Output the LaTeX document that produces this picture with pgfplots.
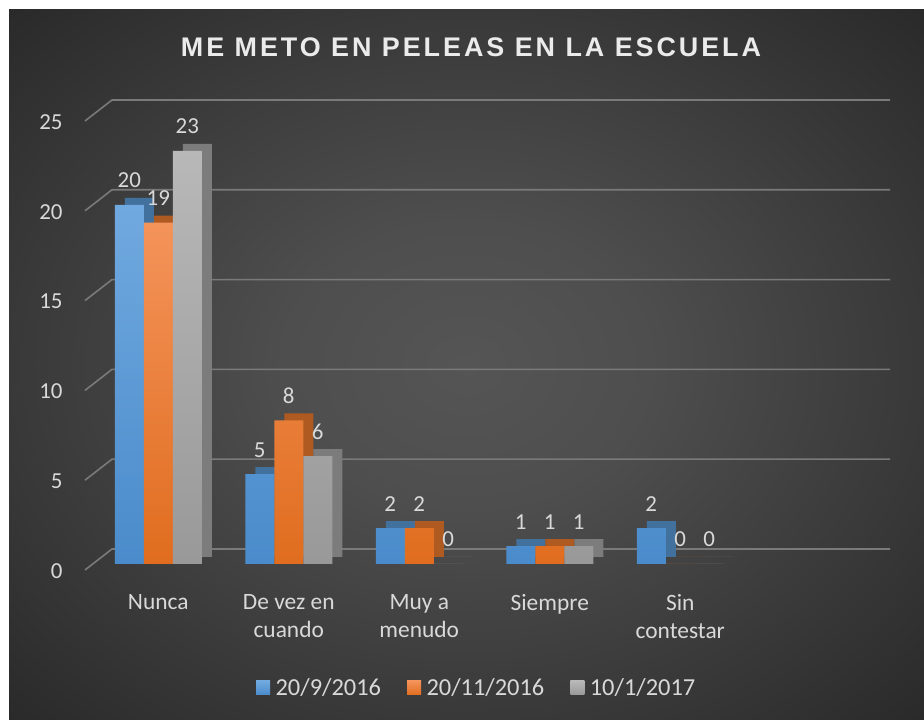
\documentclass[border=0pt]{standalone}
\usepackage{pgfplots}
\pgfplotsset{compat=1.18}
\usepackage{fontspec}
\setmainfont{Carlito}
\newfontfamily\titlefont[LetterSpace=11]{Liberation Sans}
\definecolor{txt}{HTML}{D9D9D9}
\definecolor{gridc}{HTML}{7A7A7A}
\definecolor{bgin}{HTML}{555555}
\definecolor{bgout}{HTML}{262626}
\definecolor{bT}{HTML}{70A9DF}
\definecolor{bB}{HTML}{4A8BCB}
\definecolor{bD}{HTML}{41719C}
\definecolor{oT}{HTML}{F4935A}
\definecolor{oB}{HTML}{E06D1F}
\definecolor{oD}{HTML}{AE5A21}
\definecolor{gT}{HTML}{B8B8B8}
\definecolor{gB}{HTML}{999999}
\definecolor{gD}{HTML}{7C7C7C}
\pgfdeclareradialshading{bgshade}{\pgfpoint{0bp}{0bp}}{color(0bp)=(bgin); color(10bp)=(bgin!85!bgout); color(38bp)=(bgout); color(60bp)=(bgout)}
\begin{document}
\begin{tikzpicture}[x=1bp,y=1bp]
\fill[white] (0,0) rectangle (924,720);
\shade[shading=bgshade] (9,0) rectangle (924,710);
\begin{axis}[
  at={(93bp,156bp)}, anchor=south west,
  scale only axis, width=783bp, height=449bp,
  xmin=-0.5, xmax=5.5, ymin=0, ymax=25,
  clip=false,
  axis line style={draw=none},
  tick style={draw=none},
  major tick length=0pt,
  ybar=0pt, bar width=29bp,
  xtick={0,1,2,3,4},
  xticklabels={Nunca,{De vez en\\cuando},{Muy a\\menudo},Siempre,{Sin\\contestar}},
  xticklabel style={font=\fontsize{23.5}{28}\selectfont, text=txt, align=center, yshift=-27bp},
  ytick={0,5,10,15,20,25},
  /pgf/number format/assume math mode=true,
  yticklabel style={font=\fontsize{23}{26}\selectfont, text=txt, xshift=-27bp, yshift=-7bp},
  nodes near coords,
  every node near coord/.append style={font=\fontsize{23}{26}\selectfont, text=txt, anchor=south, yshift=13.5bp},
  legend style={at={(0.49,-0.276)}, anchor=center, draw=none, fill=none, text=txt,
    font=\fontsize{24.5}{27}\selectfont, legend columns=3,
    /tikz/every odd column/.append style={column sep=3.5bp},
    /tikz/every even column/.append style={column sep=24bp}},
  legend image code/.code={\fill[#1] (0bp,-7bp) rectangle (14bp,7bp);},
]
\pgfplotsinvokeforeach{0,5,10,15,20,25}{
  \draw[gridc, line width=1.6bp] ([xshift=-8bp,yshift=-6bp]axis cs:-0.5,#1) -- ([xshift=19bp,yshift=15bp]axis cs:-0.5,#1) -- ([xshift=14bp,yshift=15bp]axis cs:5.5,#1);
}
% series 1
\addplot[forget plot, fill=bD, draw=none, bar shift=-19bp, yshift=7bp, nodes near coords={}] coordinates {(0,20) (1,5) (2,2) (3,1) (4,2)};
\addplot[top color=bT, bottom color=bB, draw=none, bar shift=-29bp] coordinates {(0,20) (1,5) (2,2) (3,1) (4,2)};
\addlegendentry{20/9/2016}
% series 2
\addplot[forget plot, fill=oD, draw=none, bar shift=10bp, yshift=7bp, nodes near coords={}] coordinates {(0,19) (1,8) (2,2) (3,1) (4,0)};
\addplot[top color=oT, bottom color=oB, draw=none, bar shift=0bp] coordinates {(0,19) (1,8) (2,2) (3,1) (4,0)};
\addlegendentry{20/11/2016}
% series 3
\addplot[forget plot, fill=gD, draw=none, bar shift=39bp, yshift=7bp, nodes near coords={}] coordinates {(0,23) (1,6) (2,0) (3,1) (4,0)};
\addplot[top color=gT, bottom color=gB, draw=none, bar shift=29bp] coordinates {(0,23) (1,6) (2,0) (3,1) (4,0)};
\addlegendentry{10/1/2017}
\end{axis}
\node[anchor=base, text=white!92!black, font=\titlefont\bfseries\fontsize{27}{30}\selectfont] at (471,663) {ME METO EN PELEAS EN LA ESCUELA};
\end{tikzpicture}
\end{document}
